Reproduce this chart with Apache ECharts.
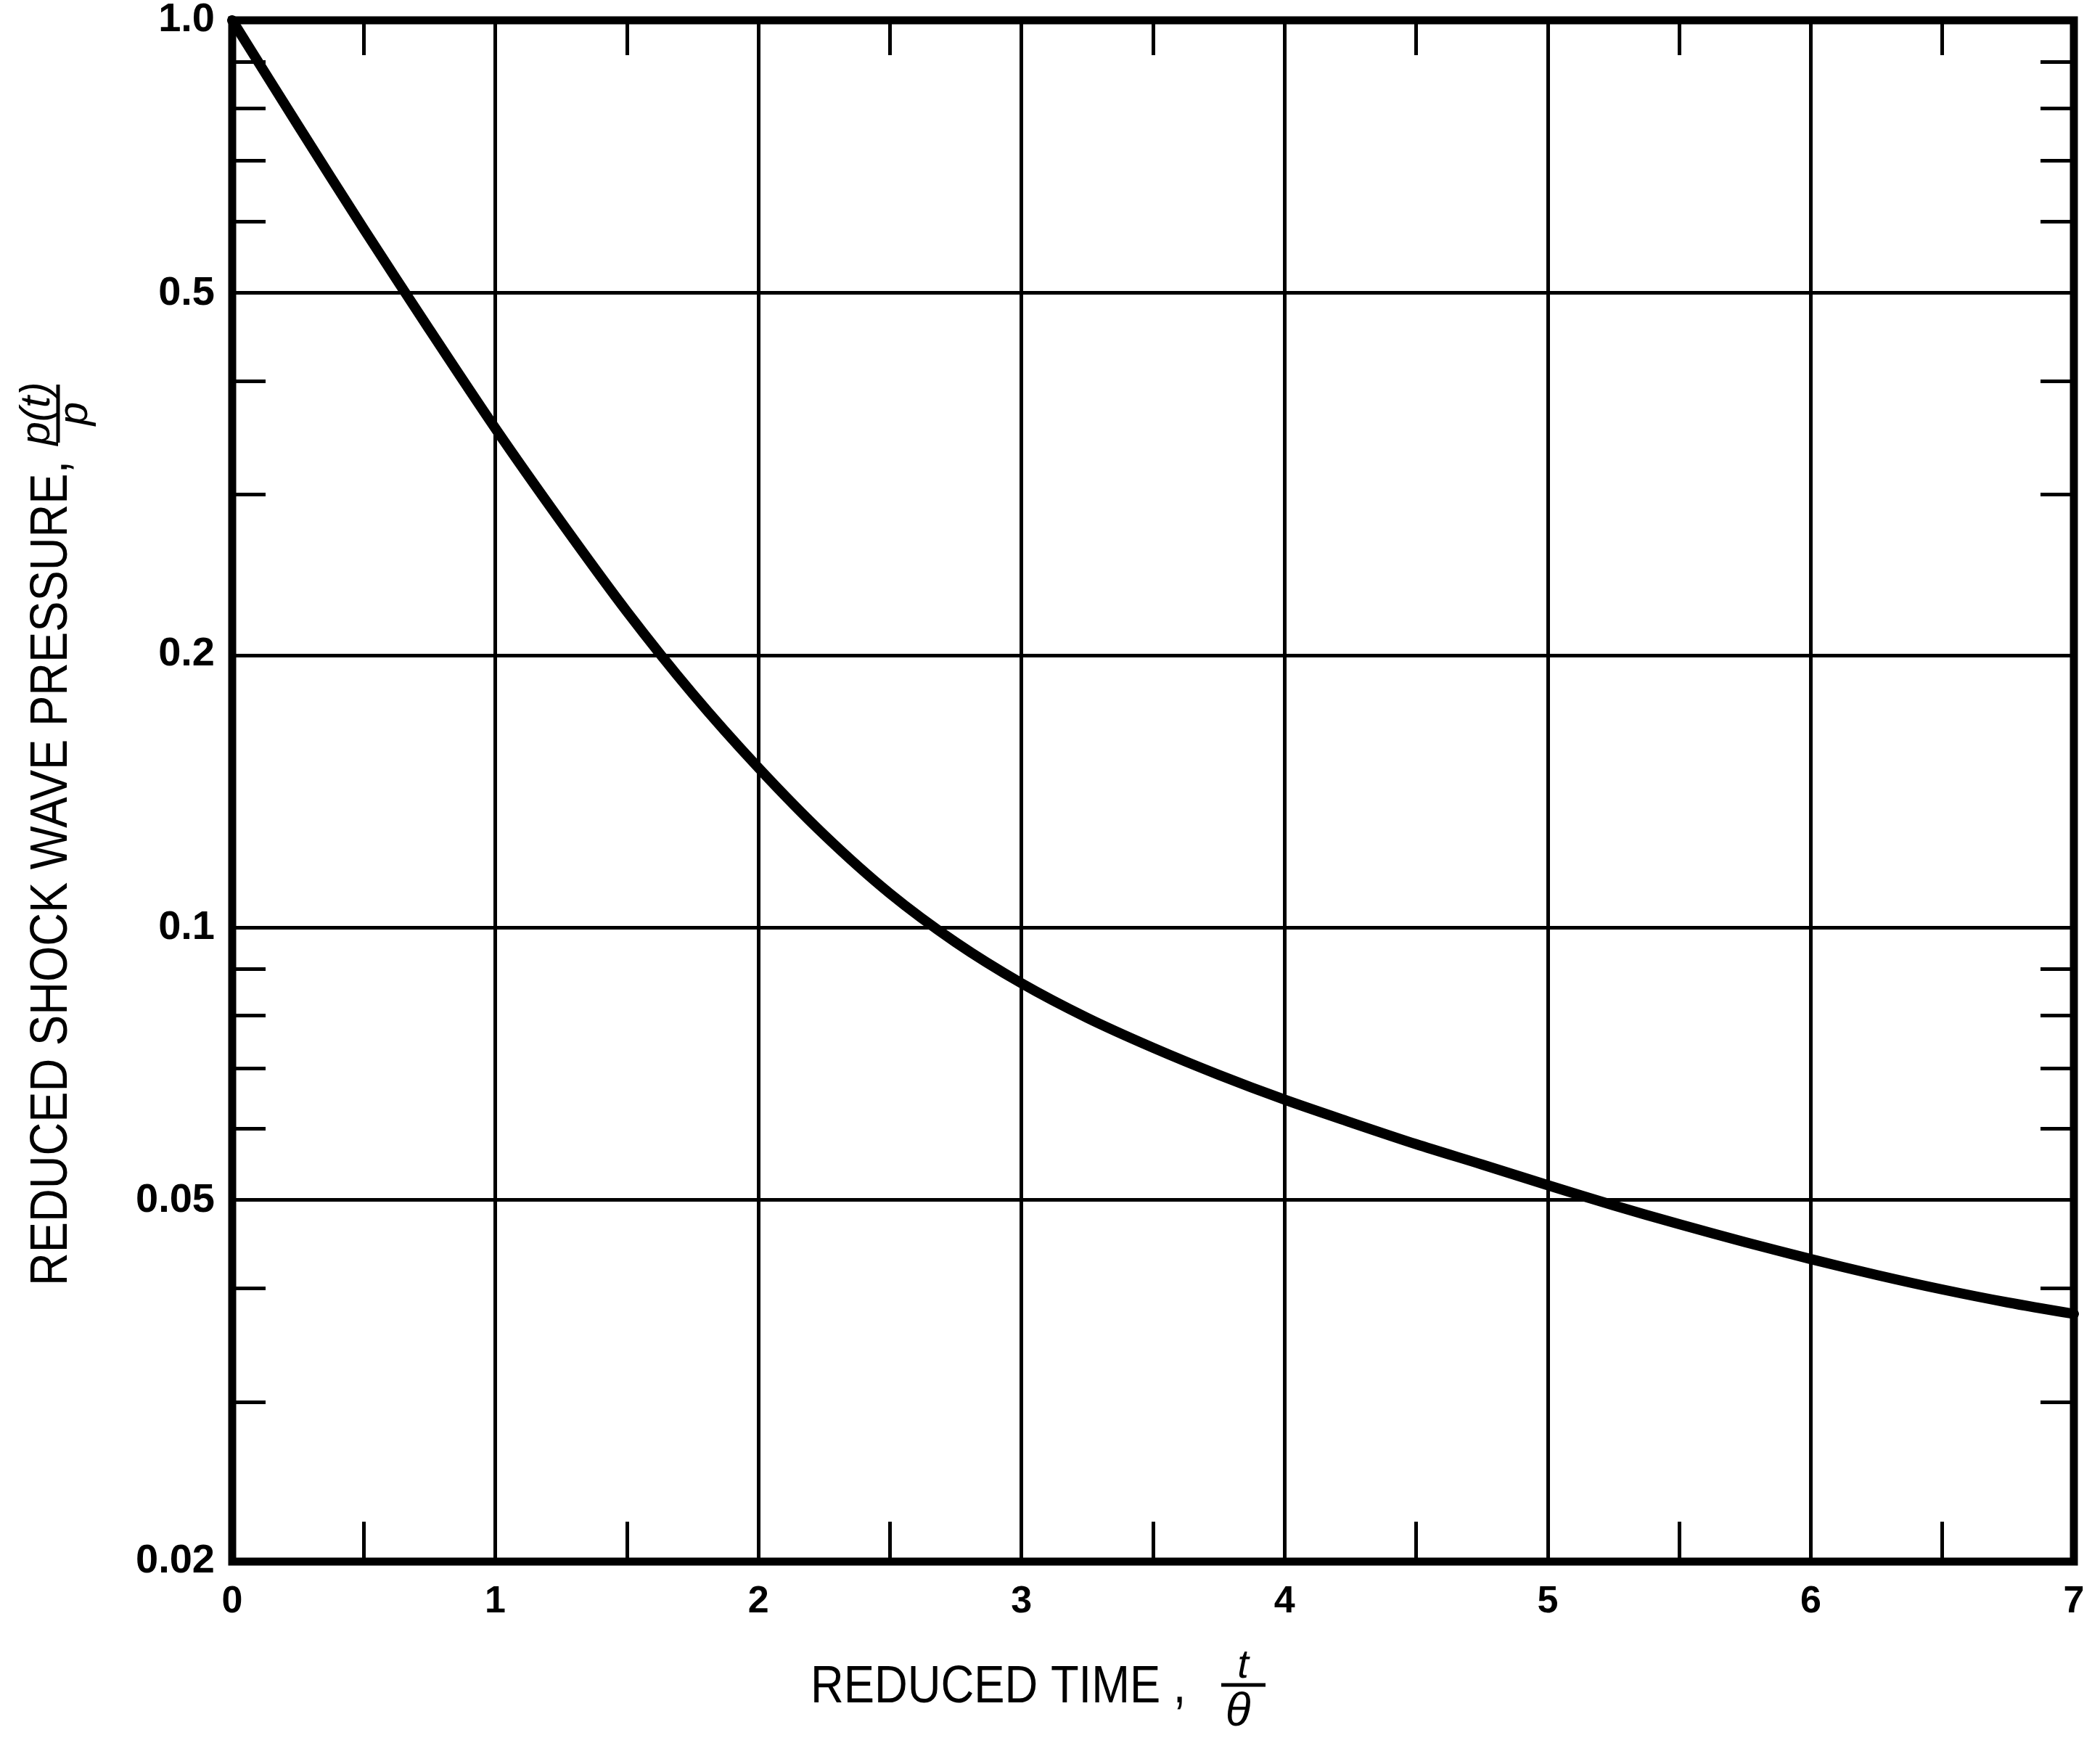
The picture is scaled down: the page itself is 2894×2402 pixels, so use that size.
<!DOCTYPE html>
<html>
<head>
<meta charset="utf-8">
<script src="https://cdn.jsdelivr.net/npm/echarts@6/dist/echarts.min.js"></script>
<style>
html,body{margin:0;padding:0;background:#fff;}
#chart{width:2894px;height:2402px;}
</style>
</head>
<body>
<div id="chart"></div>
<script>
// ---- data ----
const timeValues = [0, 0.25, 0.5, 0.75, 1.0, 1.25, 1.5, 1.75, 2.0, 2.25, 2.5, 2.75, 3.0, 3.25, 3.5, 3.75,
                    4.0, 4.25, 4.5, 4.75, 5.0, 5.25, 5.5, 5.75, 6.0, 6.25, 6.5, 6.75, 7.0];
const pressureValues = [1.0, 0.766, 0.589, 0.456, 0.355, 0.280, 0.223, 0.181, 0.150, 0.1265, 0.109, 0.0963, 0.0868, 0.0795, 0.0737, 0.0688,
                        0.0646, 0.0610, 0.0577, 0.0548, 0.0520, 0.0494, 0.0471, 0.0450, 0.0431, 0.0414, 0.0399, 0.0386, 0.0375];

const xTickValues = [0, 1, 2, 3, 4, 5, 6, 7];
const xTickLabels = ['0', '1', '2', '3', '4', '5', '6', '7'];
const xGridValues = [1, 2, 3, 4, 5, 6];
const xMinorTickValues = [0.5, 1.5, 2.5, 3.5, 4.5, 5.5, 6.5];

const yMajorValues = [0.02, 0.05, 0.1, 0.2, 0.5, 1.0];
const yMajorLabels = ['0.02', '0.05', '0.1', '0.2', '0.5', '1.0'];
const yGridValues = [0.05, 0.1, 0.2, 0.5];
const yMinorValues = [0.9, 0.8, 0.7, 0.6, 0.4, 0.3, 0.09, 0.08, 0.07, 0.06, 0.04, 0.03];

const xTitle = 'REDUCED TIME ,';
const yTitle = 'REDUCED SHOCK WAVE PRESSURE,';

// ---- build ----
const L = v => Math.log10(v);
const yMin = L(yMajorValues[0]);
const yMax = L(yMajorValues[yMajorValues.length - 1]);
const FONT = '"Liberation Sans", Arial, sans-serif';

const chart = echarts.init(document.getElementById('chart'), null, {renderer: 'canvas'});

function yLabel(v) {
  for (let i = 0; i < yMajorValues.length; i++) {
    if (Math.abs(L(yMajorValues[i]) - v) < 1e-6) return yMajorLabels[i];
  }
  return '';
}
function xLabel(v) {
  for (let i = 0; i < xTickValues.length; i++) {
    if (Math.abs(xTickValues[i] - v) < 1e-6) return xTickLabels[i];
  }
  return '';
}

const noLine = {show: false, onZero: false};
const tickStyle = {color: '#000', width: 5};

const gridLines = xGridValues.map(v => ({xAxis: v}))
  .concat(yGridValues.map(v => ({yAxis: L(v)})));

const option = {
  backgroundColor: '#fff',
  animation: false,
  grid: {
    left: 320, top: 28, width: 2538, height: 2124,
    show: true, borderColor: '#000', borderWidth: 11, backgroundColor: 'transparent'
  },
  xAxis: [
    {
      type: 'value', position: 'bottom', min: 0, max: 7, interval: 1,
      axisLine: noLine,
      axisTick: {show: true, inside: true, length: 55, customValues: xMinorTickValues, lineStyle: tickStyle},
      axisLabel: {
        show: true, margin: 30, customValues: xTickValues, formatter: xLabel,
        fontSize: 52, fontWeight: 'bold', fontFamily: FONT, color: '#000'
      },
      splitLine: {show: false}
    },
    {
      type: 'value', position: 'top', min: 0, max: 7, interval: 1,
      axisLine: noLine,
      axisTick: {show: true, inside: true, length: 48, customValues: xMinorTickValues, lineStyle: tickStyle},
      axisLabel: {show: false},
      splitLine: {show: false}
    }
  ],
  yAxis: [
    {
      type: 'value', position: 'left', min: yMin, max: yMax,
      axisLine: noLine,
      axisTick: {show: true, inside: true, length: 46, customValues: yMinorValues.map(L), lineStyle: tickStyle},
      axisLabel: {
        show: true, margin: 24, customValues: yMajorValues.map(L), formatter: yLabel,
        fontSize: 56, fontWeight: 'bold', fontFamily: FONT, color: '#000'
      },
      splitLine: {show: false}
    },
    {
      type: 'value', position: 'right', min: yMin, max: yMax,
      axisLine: noLine,
      axisTick: {show: true, inside: true, length: 46, customValues: yMinorValues.map(L), lineStyle: tickStyle},
      axisLabel: {show: false},
      splitLine: {show: false}
    }
  ],
  series: [
    {
      type: 'line', xAxisIndex: 0, yAxisIndex: 0,
      data: timeValues.map((t, i) => [t, L(pressureValues[i])]),
      smooth: 0.3, showSymbol: false, symbol: 'none',
      lineStyle: {color: '#000', width: 14, cap: 'round', join: 'round'},
      z: 5,
      markLine: {
        silent: true, symbol: 'none', animation: false,
        label: {show: false},
        lineStyle: {color: '#000', width: 5, type: 'solid'},
        emphasis: {disabled: true},
        data: gridLines
      }
    }
  ],
  graphic: [
    {type: 'text', x: 1117, y: 2326, scaleX: 0.88, z: 100,
     style: {text: xTitle, fontSize: 72, fontFamily: FONT, fill: '#000', align: 'left', verticalAlign: 'middle'}},
    {type: 'text', x: 1713, y: 2296, z: 100,
     style: {text: 't', fontSize: 56, fontStyle: 'italic', fontFamily: FONT, fill: '#000', align: 'center', verticalAlign: 'middle'}},
    {type: 'line', z: 100, shape: {x1: 1683, y1: 2322, x2: 1744, y2: 2322}, style: {stroke: '#000', lineWidth: 5}},
    {type: 'text', x: 1706, y: 2360, z: 100,
     style: {text: 'θ', fontSize: 64, fontStyle: 'italic', fontFamily: FONT, fill: '#000', align: 'center', verticalAlign: 'middle'}},

    {type: 'text', x: 72, y: 1772, rotation: Math.PI / 2, scaleX: 0.88, z: 100,
     style: {text: yTitle, fontSize: 72, fontFamily: FONT, fill: '#000', align: 'left', verticalAlign: 'middle'}},
    {type: 'text', x: 52, y: 570, rotation: Math.PI / 2, z: 100,
     style: {text: 'p(t)', fontSize: 58, fontStyle: 'italic', fontFamily: FONT, fill: '#000', align: 'center', verticalAlign: 'middle'}},
    {type: 'line', z: 100, shape: {x1: 80, y1: 530, x2: 80, y2: 610}, style: {stroke: '#000', lineWidth: 5}},
    {type: 'text', x: 104, y: 570, rotation: Math.PI / 2, z: 100,
     style: {text: 'p', fontSize: 58, fontStyle: 'italic', fontFamily: FONT, fill: '#000', align: 'center', verticalAlign: 'middle'}}
  ]
};

chart.setOption(option);
</script>
</body>
</html>
